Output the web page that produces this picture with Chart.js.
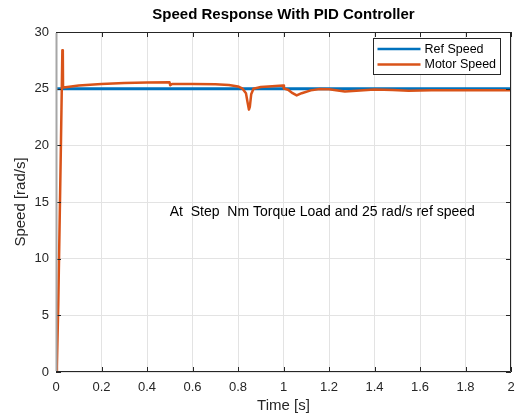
<!DOCTYPE html>
<html>
<head>
<meta charset="utf-8">
<script src="https://cdn.jsdelivr.net/npm/chart.js@4/dist/chart.umd.min.js"></script>
<style>
  html, body { margin: 0; padding: 0; background: #ffffff; }
  #wrap { width: 517px; height: 417px; }
</style>
</head>
<body>
<div id="wrap"><canvas id="speedChart" width="517" height="417"></canvas></div>
<script>
// Speed response with PID controller

const chartTitle = 'Speed Response With PID Controller';
const noteText = 'At  Step  Nm Torque Load and 25 rad/s ref speed';
const notePos = [0.5, 14.1]; // time, speed where the note starts

const xTicks = { min: 0, max: 2, step: 0.2 };
const yTicks = { min: 0, max: 30, step: 5 };

const refTime = [0, 2];
const refSpeed = [25, 25];

const motorTime = [
    0, 0.004, 0.01, 0.015, 0.022, 0.028, 0.030, 0.031, 0.05,
    0.1, 0.2, 0.3, 0.4, 0.499, 0.502, 0.51, 0.6, 0.7, 0.76,
    0.8, 0.82, 0.835, 0.842, 0.848, 0.852, 0.858, 0.868, 0.9, 0.95,
    0.998, 1.002, 1.02, 1.04, 1.058, 1.08, 1.12, 1.16, 1.2, 1.27,
    1.32, 1.4, 1.48, 1.55, 1.65, 1.8, 2.0
];
const motorSpeed = [
    0, 0.5, 6, 12, 20.5, 28.4, 28.2, 25.1, 25.15,
    25.28, 25.42, 25.5, 25.55, 25.56, 25.3, 25.42, 25.42, 25.38, 25.32,
    25.2, 25.0, 24.6, 23.8, 23.15, 23.4, 24.5, 25.0, 25.15, 25.22,
    25.28, 25.0, 24.9, 24.6, 24.4, 24.6, 24.85, 24.97, 24.95, 24.75,
    24.82, 24.92, 24.88, 24.82, 24.87, 24.85, 24.85
];

const seriesNames = ['Ref Speed', 'Motor Speed'];
const seriesColors = ['#0072BD', '#D95319'];

const FONT = 'Arial, "Liberation Sans", Helvetica, sans-serif';
const AXIS_COLOR = '#262626';

function toPoints(xs, ys) {
    return xs.map((x, i) => ({ x: x, y: ys[i] }));
}

// box, inner ticks, title, legend and note (MATLAB style)
const matlabFrame = {
    id: 'matlabFrame',
    afterDatasetsDraw(chart) {
        const { ctx, chartArea: a, scales } = chart;
        const xs = scales.x, ys = scales.y;
        ctx.save();

        // inner ticks on all four sides
        ctx.strokeStyle = AXIS_COLOR;
        ctx.lineWidth = 1;
        const tl = 5;
        ctx.beginPath();
        xs.ticks.forEach(t => {
            const px = Math.round(xs.getPixelForValue(t.value)) + 0.5;
            ctx.moveTo(px, a.bottom); ctx.lineTo(px, a.bottom - tl);
            ctx.moveTo(px, a.top); ctx.lineTo(px, a.top + tl);
        });
        ys.ticks.forEach(t => {
            const py = Math.round(ys.getPixelForValue(t.value)) + 0.5;
            ctx.moveTo(a.left, py); ctx.lineTo(a.left + tl, py);
            ctx.moveTo(a.right, py); ctx.lineTo(a.right - tl, py);
        });
        ctx.stroke();

        // frame
        ctx.beginPath();
        ctx.moveTo(a.left, a.top + 0.5); ctx.lineTo(a.right - 0.5, a.top + 0.5);
        ctx.lineTo(a.right - 0.5, a.bottom - 0.5); ctx.lineTo(a.left, a.bottom - 0.5);
        ctx.stroke();
        ctx.strokeStyle = '#a6a6a6';
        ctx.lineWidth = 2;
        ctx.beginPath();
        ctx.moveTo(a.left + 0.5, a.top + 1); ctx.lineTo(a.left + 0.5, a.bottom - 1);
        ctx.stroke();

        // title
        ctx.fillStyle = '#000000';
        ctx.font = 'bold 15px ' + FONT;
        ctx.textAlign = 'center';
        ctx.textBaseline = 'middle';
        ctx.fillText(chartTitle, (a.left + a.right) / 2, 15);

        // note inside the axes
        ctx.font = '14px ' + FONT;
        ctx.textAlign = 'left';
        ctx.fillText(noteText, xs.getPixelForValue(notePos[0]), ys.getPixelForValue(notePos[1]));

        // legend box, top right
        const bw = 127, bh = 36;
        const bx = a.right - 11 - bw + 0.5, by = a.top + 6 + 0.5;
        ctx.fillStyle = '#ffffff';
        ctx.fillRect(bx, by, bw, bh);
        ctx.strokeStyle = '#262626';
        ctx.lineWidth = 1;
        ctx.strokeRect(bx, by, bw, bh);
        ctx.font = '12.5px ' + FONT;
        seriesNames.forEach((name, i) => {
            const ly = by + 10.5 + i * 15.5;
            ctx.strokeStyle = seriesColors[i];
            ctx.lineWidth = 2.5;
            ctx.beginPath();
            ctx.moveTo(bx + 4, ly); ctx.lineTo(bx + 47, ly);
            ctx.stroke();
            ctx.fillStyle = '#000000';
            ctx.fillText(name, bx + 51, ly + 0.5);
        });
        ctx.restore();
    }
};

const ctx = document.getElementById('speedChart');
new Chart(ctx, {
    type: 'scatter',
    data: {
        datasets: [{
            label: seriesNames[0],
            data: toPoints(refTime, refSpeed),
            showLine: true,
            borderColor: seriesColors[0],
            borderWidth: 3,
            pointRadius: 0,
            tension: 0,
            order: 1
        }, {
            label: seriesNames[1],
            data: toPoints(motorTime, motorSpeed),
            showLine: true,
            borderColor: seriesColors[1],
            borderWidth: 2.5,
            pointRadius: 0,
            tension: 0,
            borderJoinStyle: 'round',
            order: 0
        }]
    },
    options: {
        responsive: false,
        animation: false,
        events: [],
        layout: { padding: { top: 32, right: 6, bottom: 0, left: 0 } },
        plugins: {
            legend: { display: false },
            tooltip: { enabled: false },
            title: { display: false }
        },
        scales: {
            x: {
                type: 'linear',
                min: xTicks.min,
                max: xTicks.max,
                afterFit: s => { s.height = 45; s.paddingLeft = 0; s.paddingRight = 0; },
                border: { display: false },
                grid: { color: '#e3e3e3', drawTicks: false },
                ticks: {
                    stepSize: xTicks.step,
                    padding: 8,
                    color: AXIS_COLOR,
                    font: { family: FONT, size: 13 },
                    maxRotation: 0,
                    callback: v => String(Math.round(v * 10) / 10)
                },
                title: {
                    display: true,
                    text: 'Time [s]',
                    color: AXIS_COLOR,
                    font: { family: FONT, size: 15 },
                    padding: { top: 0, bottom: 2 }
                }
            },
            y: {
                type: 'linear',
                min: yTicks.min,
                max: yTicks.max,
                afterFit: s => { s.width = 56; s.paddingTop = 0; s.paddingBottom = 0; },
                border: { display: false },
                grid: { color: '#e3e3e3', drawTicks: false },
                ticks: {
                    stepSize: yTicks.step,
                    padding: 7,
                    color: AXIS_COLOR,
                    font: { family: FONT, size: 13 }
                },
                title: {
                    display: true,
                    text: 'Speed [rad/s]',
                    color: AXIS_COLOR,
                    font: { family: FONT, size: 15 },
                    padding: { top: 12, bottom: 0 }
                }
            }
        }
    },
    plugins: [matlabFrame]
});
</script>
</body>
</html>
